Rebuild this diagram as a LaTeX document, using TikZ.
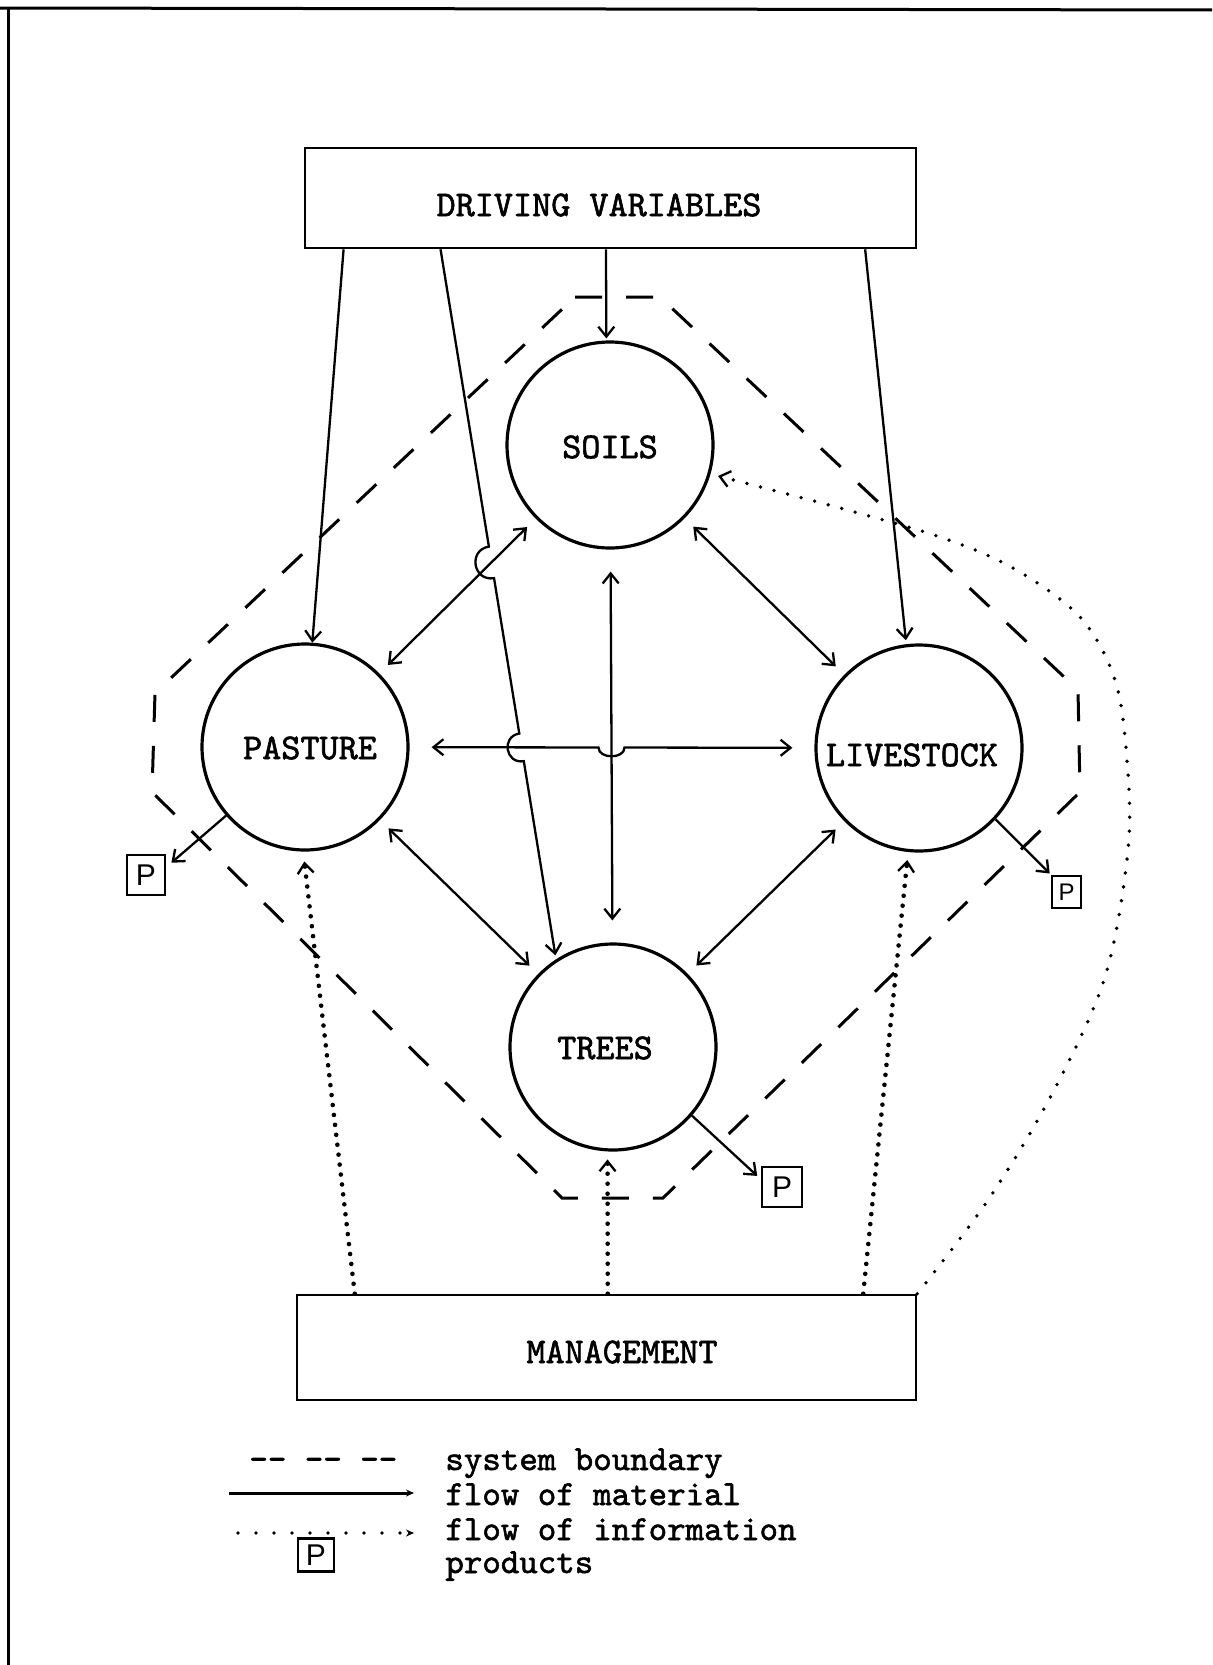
\documentclass[tikz,border=0pt]{standalone}
\usepackage{fontspec}
\newfontfamily\tw[FakeBold=1.6]{lmmono10-regular.otf}
\newfontfamily\pf{Liberation Sans}
\usetikzlibrary{arrows.meta,calc,intersections}
\begin{document}
\begin{tikzpicture}[x=0.5pt,y=0.5pt,
  lbl/.style={font=\tw\fontsize{18.2}{20}\selectfont, inner sep=0pt},
  lgl/.style={font=\tw\fontsize{17.6}{18}\selectfont, inner sep=0pt, anchor=base west},
  ent/.style={circle, draw, line width=1.6pt, minimum size=103pt, inner sep=0pt},
  box/.style={rectangle, draw, line width=1.3pt, inner sep=0pt},
  pbox/.style={rectangle, draw, line width=1.1pt, inner sep=0pt, font=\pf\fontsize{15}{15}\selectfont},
  mat/.style={line width=1.15pt},
  info/.style={line width=2.3pt, line cap=round, dash pattern=on 0pt off 5pt},
  infocurve/.style={line width=1.9pt, line cap=round, dash pattern=on 0pt off 7pt},
  bnd/.style={line width=1.5pt, dash pattern=on 13.5pt off 12pt},
  >={Straight Barb[length=5pt,width=8pt,line width=1.15pt]},
]
\useasboundingbox (0,0) rectangle (1212,-1665);
% frame
\draw[line width=1.5pt] (0,-8) -- (1212,-10);
\draw[line width=1.5pt] (8,-8) -- (8,-1665);

% boxes and entities
\node[box, minimum width=305.5pt, minimum height=50pt] (drv) at (610.5,-198) {};
\node[lbl] (drvt) at (599,-205) {DRIVING VARIABLES};
\node[ent] (soils) at (610,-445) {};
\node[lbl] (soilst) at (610,-447) {SOILS};
\node[ent] (pasture) at (305,-747) {};
\node[lbl] (pasturet) at (310,-748) {PASTURE};
\node[ent] (livestock) at (919,-748) {};
\node[lbl] (livestockt) at (912,-755) {LIVESTOCK};
\node[ent] (trees) at (613,-1047) {};
\node[lbl] (treest) at (605,-1048) {TREES};
\node[box, minimum width=309.5pt, minimum height=52.5pt] (mgmt) at (606.5,-1347.5) {};
\node[lbl] (mgmtt) at (622,-1352) {MANAGEMENT};

% products
\node[pbox, minimum width=19pt, minimum height=20pt] (pp) at (146,-875) {P};
\node[pbox, minimum width=14.5pt, minimum height=16pt, font=\pf\fontsize{12}{12}\selectfont] (lp) at (1066.5,-892) {P};
\node[pbox, minimum width=20pt, minimum height=20pt] (tp) at (782,-1187) {P};

% system boundary
\draw[bnd] (575,-297) -- (660,-297) -- (1078,-690) -- (1080,-792) -- (663,-1198) -- (562,-1198) -- (152,-792) -- (155,-693) -- cycle;

% driving variables
\coordinate (d1) at ($(drv.south west)!0.065!(drv.south east)$);
\coordinate (d2) at ($(drv.south west)!0.223!(drv.south east)$);
\coordinate (d3) at ($(drv.south west)!0.4926!(drv.south east)$);
\coordinate (d4) at ($(drv.south west)!0.915!(drv.south east)$);
\draw[mat,->] (d1) -- (pasture.86);
\draw[mat,->,shorten >=1pt] (d3) -- (soils.92);
\draw[mat,->,shorten >=2pt] (d4) -- (livestock.97);

\coordinate (tEnd) at (trees.123);
\path[name path=dtp] (d2) -- (tEnd);
\path[name path=psp] (soils.center) -- (pasture.center);
\path[name path=plp] (pasture.center) -- (livestock.center);
\path[name path=stp] (soils.center) -- (trees.center);
\path[name intersections={of=dtp and psp, by=h1}];
\path[name intersections={of=dtp and plp, by=h2}];
\path[name intersections={of=plp and stp, by=h3}];
\coordinate (h1a) at ($(h1)!8pt!(d2)$);
\coordinate (h1b) at ($(h1)!8pt!(tEnd)$);
\coordinate (h2a) at ($(h2)!7pt!(d2)$);
\coordinate (h2b) at ($(h2)!7pt!(tEnd)$);
\coordinate (h3a) at ($(h3)!6.5pt!(pasture.center)$);
\coordinate (h3b) at ($(h3)!6.5pt!(livestock.center)$);

\draw[mat,->,shorten >=2pt] (d2) -- (h1a)
  .. controls ($(h1a)!0.667!-90:(h1b)$) and ($(h1b)!0.667!90:(h1a)$) .. (h1b)
  -- (h2a)
  .. controls ($(h2a)!0.667!-90:(h2b)$) and ($(h2b)!0.667!90:(h2a)$) .. (h2b)
  -- (tEnd);

% material flows between components
\draw[mat,<->,shorten <=6pt,shorten >=6pt] (soils) -- (pasture);
\draw[mat,<->,shorten <=6pt,shorten >=6pt] (soils) -- (livestock);
\draw[mat,<->,shorten <=6pt,shorten >=6pt] (pasture) -- (trees);
\draw[mat,<->,shorten <=6pt,shorten >=6pt] (livestock) -- (trees);
\draw[mat,<->,shorten <=11pt,shorten >=11pt] (soils) -- (trees);
\draw[mat,<->,shorten <=11pt,shorten >=11pt] (pasture) -- (h3a)
  .. controls ($(h3a)!0.45!-90:(h3b)$) and ($(h3b)!0.45!90:(h3a)$) .. (h3b)
  -- (livestock);

% products
\draw[mat,->,shorten >=3.5pt] (pasture.221) -- (pp.21);
\draw[mat,->,shorten >=1pt] (livestock.-43) -- (lp.132);
\draw[mat,->,shorten >=2.5pt] (trees.-41) -- (tp.160);

% management information
\coordinate (m1) at ($(mgmt.north west)!0.095!(mgmt.north east)$);
\coordinate (m2) at ($(mgmt.north west)!0.502!(mgmt.north east)$);
\coordinate (m3) at ($(mgmt.north west)!0.913!(mgmt.north east)$);
\draw[info,->,shorten >=5pt] (m1) -- (pasture.-91);
\draw[info,->,shorten >=4pt] (m2) -- (trees.-93);
\draw[info,->,shorten >=4pt] (m3) -- (livestock.-96);
\coordinate (sEnd) at ($(soils.center)+(108,-31)$);
\draw[infocurve,->] plot[smooth,tension=0.55] coordinates {(mgmt.north east) (988,-1200) (1052,-1094) (1105,-977) (1128,-850) (1127,-760) (1115,-680) (1080,-617) (1013,-568) (940,-537) (840,-508) (sEnd)};

% legend
\node[lgl] (lgd) at (249,-1470) {-{}- -{}- -{}-};
\node[lgl] (lg1) at (445,-1470) {system boundary};
\node[lgl] (lg2) at (445,-1505) {flow of material};
\node[lgl] (lg3) at (445,-1540) {flow of information};
\node[lgl] (lg4) at (445,-1573) {products};
\coordinate (la) at (229,-1493);
\coordinate (lb) at (414,-1493);
\draw[line width=1.5pt,-{Stealth[length=4pt,width=3.5pt]}] (la) -- (lb);
\coordinate (lc) at (238,-1533);
\coordinate (ld) at (414,-1533);
\draw[line width=1.9pt,line cap=round,dash pattern=on 0pt off 9pt,-{Stealth[length=4pt,width=3.5pt]}] (lc) -- (ld);
\node[pbox, minimum width=18pt, minimum height=16.5pt] (lgp) at (316,-1555) {P};
\end{tikzpicture}
\end{document}
